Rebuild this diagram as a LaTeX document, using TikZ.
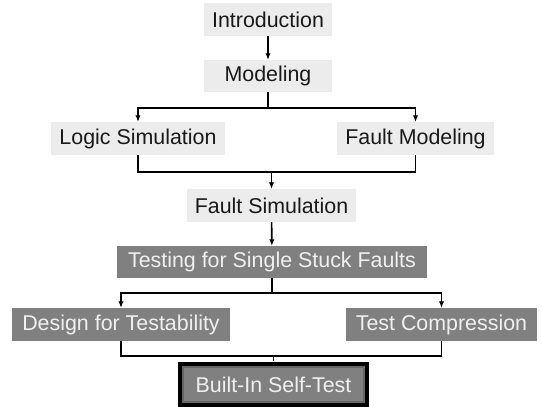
\documentclass[tikz,border=0pt]{standalone}
\usepackage{fontspec}
\setmainfont{Liberation Sans}
\usetikzlibrary{arrows.meta}
\definecolor{lightbox}{HTML}{ECECEC}
\definecolor{darkbox}{HTML}{808080}
\definecolor{boxtext}{HTML}{F0F0F0}
\begin{document}
\begin{tikzpicture}[x=1pt, y=-1pt,
    every node/.style={font=\fontsize{21.4}{24}\selectfont, inner sep=0pt},
    lightstep/.style={fill=lightbox, text=black!90},
    darkstep/.style={fill=darkbox, text=boxtext},
    framed/.style={preaction={draw=black, line width=10pt}, draw=black!60, line width=1.5pt},
    link/.style={line width=1.6pt, black},
    arr/.style={link, -{Latex[length=6.5pt,width=5.5pt]}}]
    \useasboundingbox (0,0) rectangle (542,407);
    % light chapters
    \node[lightstep, minimum width=128, minimum height=33] (intro) at (268,19.5) {Introduction};
    \node[lightstep, minimum width=128, minimum height=32] (model) at (268,76) {Modeling};
    \node[lightstep, minimum width=174, minimum height=33] (logic) at (138,138.5) {Logic Simulation};
    \node[lightstep, minimum width=157, minimum height=33] (fmodel) at (415.5,138.5) {Fault Modeling};
    \node[lightstep, minimum width=169, minimum height=33] (fsim) at (271.5,205.5) {Fault Simulation};
    % dark chapters
    \node[darkstep, minimum width=310, minimum height=32] (tssf) at (272,262) {Testing for Single Stuck Faults};
    \node[darkstep, minimum width=218, minimum height=33] (dft) at (121,324.5) {Design for Testability};
    \node[darkstep, minimum width=191, minimum height=33] (tc) at (441.5,324.5) {Test Compression};
    \node[darkstep, framed, minimum width=181, minimum height=35] (bist) at (273.5,384.5) {Built-In Self-Test};
    % connectors
    \coordinate (j1) at (271.5,172);
    \coordinate (j2) at (273.5,356);
    \draw[arr] (intro) -- (model);
    \draw[arr] (model.south) -- ++(0,16) -| (logic.north);
    \draw[arr] (model.south) -- ++(0,16) -| (fmodel.north);
    \draw[link] (logic.south) |- (j1);
    \draw[link] (fmodel.south) |- (j1);
    \draw[arr] (j1) -- (fsim.north);
    \draw[arr] (fsim) -- (tssf);
    \draw[arr] (tssf.south) -- ++(0,15) -| (dft.north);
    \draw[arr] (tssf.south) -- ++(0,15) -| (tc.north);
    \draw[link] (dft.south) |- (j2);
    \draw[link] (tc.south) |- (j2);
    \draw[link] (j2) -- ([yshift=5pt]bist.north);
\end{tikzpicture}
\end{document}
